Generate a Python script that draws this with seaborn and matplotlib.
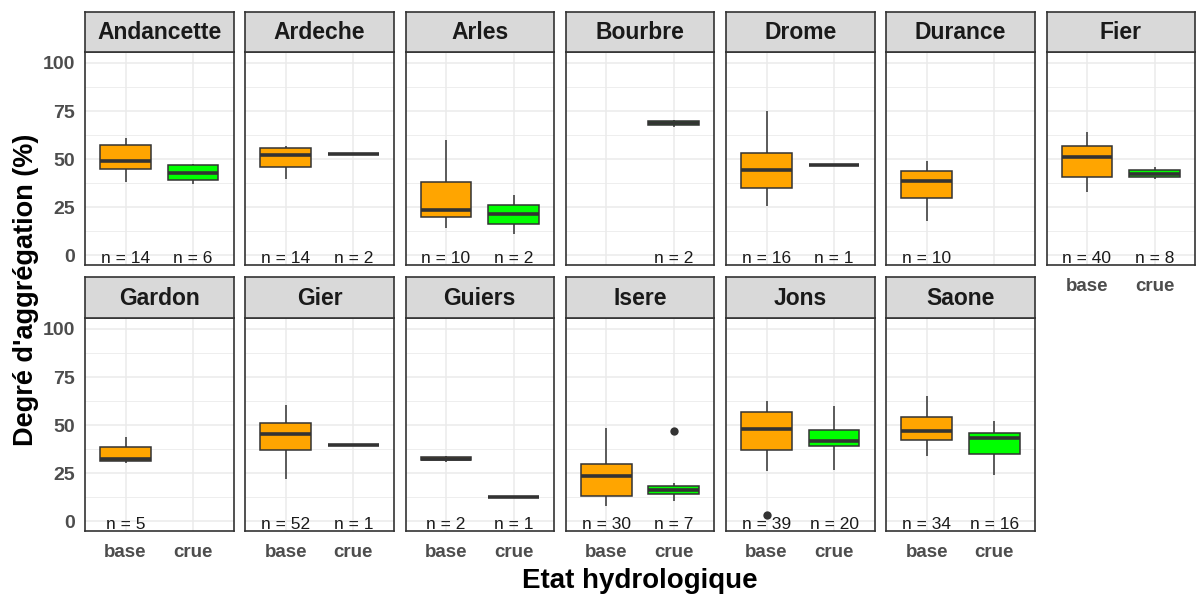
import numpy as np
import pandas as pd
import matplotlib
matplotlib.use("Agg")
import matplotlib.pyplot as plt
import seaborn as sns

sns.set_theme(style="white")
plt.rcParams['font.family'] = ['Liberation Sans', 'DejaVu Sans']

# data: five-number summaries (lo whisker, q1, median, q3, hi whisker)
sites = ["Andancette", "Ardeche", "Arles", "Bourbre", "Drome", "Durance", "Fier",
         "Gardon", "Gier", "Guiers", "Isere", "Jons", "Saone"]
states = ["base", "crue"]

base_n = [14, 14, 10, None, 16, 10, 40, 5, 52, 2, 30, 39, 34]
crue_n = [6, 2, 2, 2, 1, None, 8, None, 1, 1, 7, 20, 16]

base_lo = [38.0, 39.5, 14.4, None, 25.5, 18.0, 32.9, 30.4, 22.0, 31.0, 8.0, 26.4, 33.9]
base_q1 = [44.7, 45.8, 19.8, None, 34.8, 29.8, 40.7, 31.3, 37.3, 31.75, 13.0, 37.3, 42.2]
base_med = [48.9, 52.4, 23.6, None, 44.4, 38.6, 51.3, 32.5, 45.3, 32.5, 23.8, 47.9, 47.2]
base_q3 = [57.4, 55.8, 38.1, None, 53.2, 44.0, 56.7, 38.4, 50.9, 33.25, 30.0, 56.6, 54.2]
base_hi = [61.2, 56.8, 60.2, None, 75.0, 49.2, 64.1, 43.7, 60.4, 34.0, 48.6, 62.8, 65.3]

crue_lo = [37.0, 52.5, 11.3, 66.9, 47.0, None, 39.5, None, 39.9, 12.8, 10.6, 26.5, 24.0]
crue_q1 = [39.0, 52.6, 16.3, 67.6, 47.0, None, 40.7, None, 39.9, 12.8, 14.1, 39.0, 34.9]
crue_med = [43.0, 52.75, 21.4, 68.65, 47.0, None, 42.5, None, 39.9, 12.8, 16.5, 41.5, 43.4]
crue_q3 = [46.8, 52.9, 26.4, 69.7, 47.0, None, 44.2, None, 39.9, 12.8, 18.4, 47.6, 45.7]
crue_hi = [47.7, 53.0, 31.4, 70.4, 47.0, None, 45.9, None, 39.9, 12.8, 20.1, 60.0, 51.9]

out_site = ["Jons", "Isere"]
out_state = ["base", "crue"]
out_val = [3.3, 46.9]

rows = []
for i, s in enumerate(sites):
    for st, cols in (("base", (base_lo, base_q1, base_med, base_q3, base_hi)),
                     ("crue", (crue_lo, crue_q1, crue_med, crue_q3, crue_hi))):
        if cols[0][i] is None:
            continue
        for c in cols:
            rows.append({"site": s, "etat": st, "val": c[i]})
df = pd.DataFrame(rows)
outliers = pd.DataFrame({"site": out_site, "etat": out_state, "val": out_val})

palette = {"base": "#FFA500", "crue": "#00FF00"}
dark = "#333333"

W, H = 1196, 597
fig = plt.figure(figsize=(W / 100, H / 100), dpi=100)

def fbox(l, t, w, h):
    return [l / W, 1 - (t + h) / H, w / W, h / H]

pitch = 160.25
pw = 148.5
row_geo = [(12, 40, 52, 212.5), (277, 41, 318, 212.5)]  # strip top, strip h, panel top, panel h

for i, s in enumerate(sites):
    r, c = divmod(i, 7)
    left = 85 + c * pitch
    st_top, st_h, p_top, p_h = row_geo[r]
    ax = fig.add_axes(fbox(left, p_top, pw, p_h))
    sub = df[df.site == s]
    sns.boxplot(data=sub, x="etat", y="val", hue="etat", order=states, hue_order=states,
                palette=palette, saturation=1, width=0.75, linecolor=dark, linewidth=1.1,
                legend=False, showfliers=False, showcaps=False, whis=1.5,
                medianprops=dict(linewidth=2.6, color=dark), ax=ax, zorder=3)
    osub = outliers[outliers.site == s]
    if len(osub):
        sns.stripplot(data=osub, x="etat", y="val", order=states, jitter=False,
                      color=dark, size=6, marker="o", ax=ax, zorder=4)
    ax.set_xlim(-0.6, 1.6)
    ax.set_ylim(-4.8, 105.7)
    ax.set_yticks([0, 25, 50, 75, 100])
    ax.set_yticks([12.5, 37.5, 62.5, 87.5], minor=True)
    ax.set_xticks([0, 1])
    ax.grid(True, which="major", color="#EBEBEB", linewidth=1.1, zorder=0)
    ax.grid(True, which="minor", axis="y", color="#EBEBEB", linewidth=0.6, zorder=0)
    ax.set_axisbelow(True)
    ax.set_xlabel("")
    ax.set_ylabel("")
    for sp in ax.spines.values():
        sp.set_visible(True)
        sp.set_color(dark)
        sp.set_linewidth(1.2)
    ax.tick_params(axis="y", which="major", length=4, width=1, color=dark, pad=3)
    ax.tick_params(axis="x", which="major", length=4, width=1, color=dark, pad=6)
    ax.tick_params(axis="y", which="minor", length=0)
    if c == 0:
        ax.set_yticklabels(["0", "25", "50", "75", "100"], fontsize=14,
                           fontweight="bold", color="#4D4D4D")
    else:
        ax.tick_params(axis="y", which="major", length=0, labelleft=False)
    bottom = (r == 1) or (i + 7 >= len(sites))
    if bottom:
        ax.set_xticklabels(states, fontsize=13.5, fontweight="bold", color="#4D4D4D")
    else:
        ax.tick_params(axis="x", length=0, labelbottom=False)

    for k, n in enumerate((base_n[i], crue_n[i])):
        if n is not None:
            ax.text(k, -1.5, f"n = {n}", ha="center", va="center", fontsize=12.5,
                    color="#1A1A1A", zorder=5)

    sax = fig.add_axes(fbox(left, st_top, pw, st_h))
    sax.set_facecolor("#D9D9D9")
    sax.set_xticks([])
    sax.set_yticks([])
    for sp in sax.spines.values():
        sp.set_visible(True)
        sp.set_color(dark)
        sp.set_linewidth(1.2)
    sax.text(0.5, 0.48, s, ha="center", va="center", fontsize=16.5, fontweight="bold",
             color="#1A1A1A", transform=sax.transAxes)

fig.text(26 / W, 1 - 290 / H, "Degré d'aggrégation (%)", rotation=90, ha="center",
         va="center", fontsize=19.5, fontweight="bold", color="black")
fig.text(640 / W, 1 - 581 / H, "Etat hydrologique", ha="center", va="center",
         fontsize=20, fontweight="bold", color="black")

fig.savefig("out.png", dpi=100)
